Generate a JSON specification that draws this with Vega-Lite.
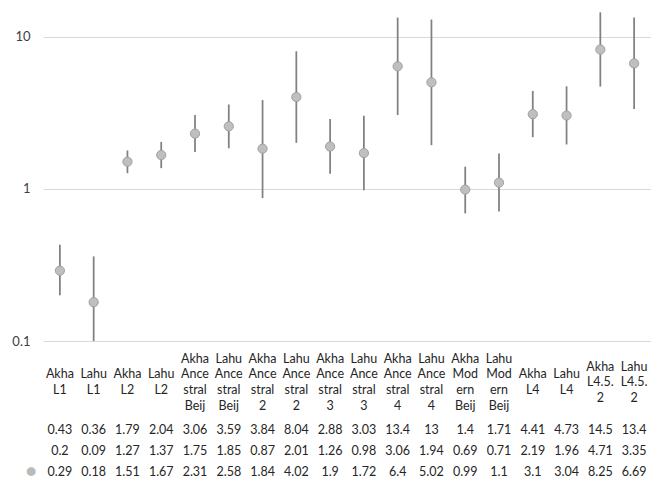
{
  "$schema": "https://vega.github.io/schema/vega-lite/v6.json",
  "padding": {"left": 0, "top": 5, "right": 0, "bottom": 3},
  "config": {"view": {"stroke": null}, "font": "Lato", "concat": {"spacing": 0}},
  "datasets": {
    "d": [
      {"name": "Akha L1", "label": "\nAkha\nL1", "mean": 0.29, "lower": 0.2, "upper": 0.43},
      {"name": "Lahu L1", "label": "\nLahu\nL1", "mean": 0.18, "lower": 0.09, "upper": 0.36},
      {"name": "Akha L2", "label": "\nAkha\nL2", "mean": 1.51, "lower": 1.27, "upper": 1.79},
      {"name": "Lahu L2", "label": "\nLahu\nL2", "mean": 1.67, "lower": 1.37, "upper": 2.04},
      {"name": "Akha Ancestral Beij", "label": "Akha\nAnce\nstral\nBeij", "mean": 2.31, "lower": 1.75, "upper": 3.06},
      {"name": "Lahu Ancestral Beij", "label": "Lahu\nAnce\nstral\nBeij", "mean": 2.58, "lower": 1.85, "upper": 3.59},
      {"name": "Akha Ancestral 2", "label": "Akha\nAnce\nstral\n2", "mean": 1.84, "lower": 0.87, "upper": 3.84},
      {"name": "Lahu Ancestral 2", "label": "Lahu\nAnce\nstral\n2", "mean": 4.02, "lower": 2.01, "upper": 8.04},
      {"name": "Akha Ancestral 3", "label": "Akha\nAnce\nstral\n3", "mean": 1.9, "lower": 1.26, "upper": 2.88},
      {"name": "Lahu Ancestral 3", "label": "Lahu\nAnce\nstral\n3", "mean": 1.72, "lower": 0.98, "upper": 3.03},
      {"name": "Akha Ancestral 4", "label": "Akha\nAnce\nstral\n4", "mean": 6.4, "lower": 3.06, "upper": 13.4},
      {"name": "Lahu Ancestral 4", "label": "Lahu\nAnce\nstral\n4", "mean": 5.02, "lower": 1.94, "upper": 13},
      {"name": "Akha Modern Beij", "label": "Akha\nMod\nern\nBeij", "mean": 0.99, "lower": 0.69, "upper": 1.4},
      {"name": "Lahu Modern Beij", "label": "Lahu\nMod\nern\nBeij", "mean": 1.1, "lower": 0.71, "upper": 1.71},
      {"name": "Akha L4", "label": "\nAkha\nL4", "mean": 3.1, "lower": 2.19, "upper": 4.41},
      {"name": "Lahu L4", "label": "\nLahu\nL4", "mean": 3.04, "lower": 1.96, "upper": 4.73},
      {"name": "Akha L4.5.2", "label": "Akha\nL4.5.\n2", "mean": 8.25, "lower": 4.71, "upper": 14.5},
      {"name": "Lahu L4.5.2", "label": "Lahu\nL4.5.\n2", "mean": 6.69, "lower": 3.35, "upper": 13.4}
    ]
  },
  "vconcat": [
    {
      "width": 608,
      "height": 336,
      "data": {"name": "d"},
      "layer": [
        {
          "mark": {"type": "rule", "clip": true, "color": "#808080", "strokeWidth": 1.75},
          "encoding": {
            "x": {"field": "name", "type": "nominal", "sort": null, "scale": {"paddingInner": 0, "paddingOuter": 0}, "axis": null},
            "y": {
              "field": "lower", "type": "quantitative",
              "scale": {"type": "log", "domain": [0.1, 16.2], "nice": false},
              "axis": {
                "title": null, "domain": false, "ticks": false, "values": [0.1, 1, 10],
                "labelExpr": "datum.value + ''", "labelPadding": 13, "minExtent": 43,
                "gridColor": "#d9d9d9", "gridWidth": 1, "labelFontSize": 13, "labelColor": "#404040"
              }
            },
            "y2": {"field": "upper"}
          }
        },
        {
          "mark": {"type": "circle", "fill": "#bfbfbf", "stroke": "#a0a0a0", "strokeWidth": 1, "size": 85, "opacity": 1},
          "encoding": {
            "x": {"field": "name", "type": "nominal", "sort": null},
            "y": {"field": "mean", "type": "quantitative"}
          }
        }
      ]
    },
    {
      "width": 608,
      "height": 71,
      "data": {"name": "d"},
      "encoding": {
        "x": {"field": "name", "type": "nominal", "sort": null, "scale": {"paddingInner": 0, "paddingOuter": 0}, "axis": null},
        "text": {"field": "label", "type": "nominal"}
      },
      "layer": [
        {
          "transform": [{"filter": {"not": {"field": "name", "oneOf": ["Akha L4.5.2", "Lahu L4.5.2"]}}}],
          "mark": {"type": "text", "lineBreak": "\n", "baseline": "middle", "dy": -25, "lineHeight": 15.7, "fontSize": 12.5, "color": "#262626"}
        },
        {
          "transform": [{"filter": {"field": "name", "oneOf": ["Akha L4.5.2", "Lahu L4.5.2"]}}],
          "mark": {"type": "text", "lineBreak": "\n", "baseline": "middle", "dy": -17, "lineHeight": 15.7, "fontSize": 12.5, "color": "#262626"}
        }
      ]
    },
    {
      "width": 608,
      "height": 63,
      "data": {"name": "d"},
      "transform": [{"fold": ["upper", "lower", "mean"], "as": ["key", "value"]}],
      "mark": {"type": "text", "baseline": "middle", "fontSize": 12.5, "color": "#262626"},
      "encoding": {
        "x": {"field": "name", "type": "nominal", "sort": null, "scale": {"paddingInner": 0, "paddingOuter": 0}, "axis": null},
        "y": {
          "field": "key", "type": "nominal", "sort": ["upper", "lower", "mean"],
          "scale": {"type": "band", "paddingInner": 0, "paddingOuter": 0},
          "axis": {
            "title": null, "domain": false, "ticks": false, "grid": false,
            "labelExpr": "datum.value == 'mean' ? '●' : ''",
            "labelColor": "#bababa", "labelFontSize": 18, "labelPadding": 7
          }
        },
        "text": {"field": "value", "type": "nominal"}
      }
    }
  ]
}
